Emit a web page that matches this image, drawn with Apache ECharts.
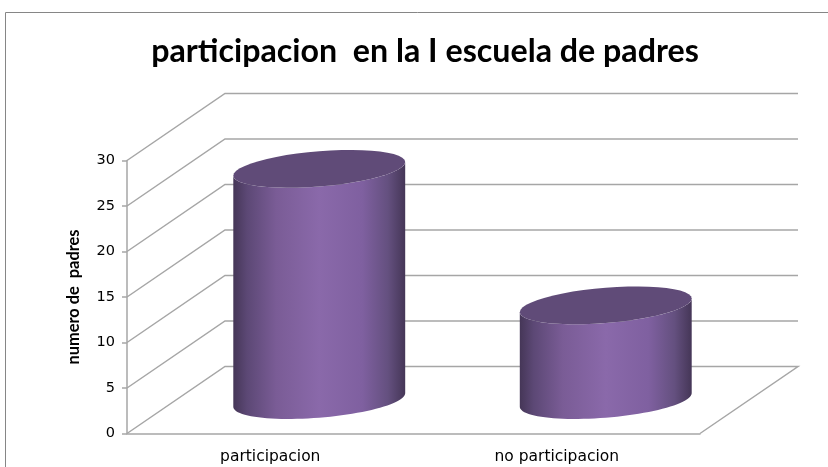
<!DOCTYPE html>
<html><head><meta charset="utf-8">
<style>html,body{margin:0;padding:0;background:#fff}#c{width:828px;height:467px}</style>
<script src="https://cdn.jsdelivr.net/npm/echarts@6/dist/echarts.min.js"></script>
</head><body><div id="c"></div>
<script>
var categories = ['participacion', 'no participacion'];
var parentCounts = [25.4, 10.4];
var yTicks = [0, 5, 10, 15, 20, 25, 30];
var titleText = 'participacion  en la I escuela de padres';
var yName = 'numero de  padres';

var DX = 98, DY = -67;           // depth of the 3D box
var GRID = '#a6a6a6';

function ellipsePts(cx, cy, a, from, to) {
  var b = 17.7, k = 6.8, n = 48, pts = [];
  for (var i = 0; i <= n; i++) {
    var t = from + (to - from) * i / n;
    pts.push([cx + a * Math.cos(t), cy + b * Math.sin(t) - k * Math.cos(t)]);
  }
  return pts;
}

var chart = echarts.init(document.getElementById('c'), null, {renderer: 'canvas'});
chart.setOption({
  animation: false,
  backgroundColor: '#fff',
  title: {
    text: titleText, left: 420, top: 31, textAlign: 'center',
    textStyle: {fontFamily: 'Lato', fontWeight: 'bold', fontSize: 32.2, color: '#000'}
  },
  graphic: [{
    type: 'rect', silent: true, z: 0,
    shape: {x: 5.5, y: 12.5, width: 900, height: 600},
    style: {fill: 'none', stroke: '#868686', lineWidth: 1}
  }],
  grid: {left: 127, right: 128, top: 160.5, bottom: 33.5},
  xAxis: {
    type: 'category', data: categories,
    axisTick: {show: false},
    axisLine: {lineStyle: {color: GRID, width: 1.5}},
    axisLabel: {fontFamily: 'DejaVu Sans', fontSize: 15.5, color: '#000', margin: 15}
  },
  yAxis: {
    type: 'value', min: 0, max: 30, interval: 5,
    name: yName, nameLocation: 'middle', nameRotate: 90, nameGap: 45,
    nameTextStyle: {fontFamily: 'Lato', fontWeight: 'bold', fontSize: 16.4, color: '#000'},
    splitLine: {show: false},
    axisLine: {show: true, lineStyle: {color: GRID, width: 1.5}},
    axisTick: {show: true, length: 5, lineStyle: {color: GRID, width: 1.5}},
    axisLabel: {fontFamily: 'DejaVu Sans', fontSize: 14.5, color: '#000', margin: 12,
      formatter: function (v) { return yTicks.indexOf(v) >= 0 ? String(v) : ''; }}
  },
  series: [{
    type: 'custom', coordinateSystem: 'cartesian2d', silent: true, z: 1,
    encode: {x: 0, y: 1},
    data: yTicks.map(function (v) { return [0, v]; }),
    renderItem: function (params, api) {
      var cs = params.coordSys, y = api.coord([0, api.value(1)])[1];
      var pts = [[cs.x, y], [cs.x + DX, y + DY], [cs.x + cs.width + DX, y + DY]];
      if (api.value(1) === 0) pts.push([cs.x + cs.width, y]);
      return {type: 'polyline', shape: {points: pts},
        style: {fill: 'none', stroke: GRID, lineWidth: 1.5}};
    }
  }, {
    type: 'custom', coordinateSystem: 'cartesian2d', silent: true, z: 3,
    encode: {x: 0, y: 1},
    data: parentCounts.map(function (v, i) { return [i, v]; }),
    renderItem: function (params, api) {
      var base = api.coord([api.value(0), 0]);
      var top = api.coord([api.value(0), api.value(1)]);
      var a = api.size([1, 0])[0] * 0.3;
      var cx = base[0] + DX / 2, by = base[1] + DY / 2, ty = top[1] + DY / 2;
      var lower = ellipsePts(cx, by, a, Math.PI, 0);
      var upper = ellipsePts(cx, ty, a, 0, Math.PI);
      return {type: 'group', children: [{
        type: 'polygon', shape: {points: lower.concat(upper)},
        style: {fill: new echarts.graphic.LinearGradient(0, 0, 1, 0, [
          {offset: 0, color: '#453657'},
          {offset: 0.08, color: '#5c4875'},
          {offset: 0.25, color: '#7a5c96'},
          {offset: 0.5, color: '#8a69aa'},
          {offset: 0.75, color: '#7f60a0'},
          {offset: 0.9, color: '#64507f'},
          {offset: 1, color: '#453657'}
        ])}
      }, {
        type: 'polygon', shape: {points: ellipsePts(cx, ty, a, 0, 2 * Math.PI)},
        style: {fill: '#604b78'}
      }]};
    }
  }]
});
</script></body></html>
